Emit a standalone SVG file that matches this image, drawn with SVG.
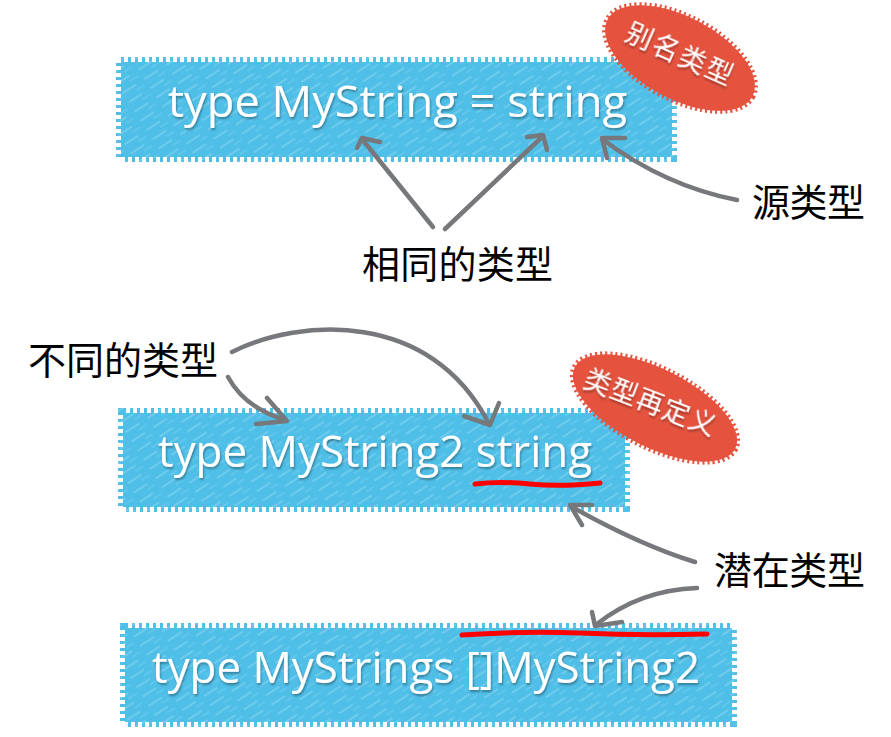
<svg xmlns="http://www.w3.org/2000/svg" width="891" height="737" viewBox="0 0 891 737">
<style>
.box{fill:#4FBFE8;stroke:#4FBFE8;stroke-width:10;stroke-dasharray:3 4}
.hatch{fill:url(#hatch)}
.code{font-family:"Open Sans","Liberation Sans",sans-serif;font-size:44px;fill:#fff;filter:url(#sh)}
.blob{fill:#E5533F;stroke:#E5533F;stroke-width:6;stroke-dasharray:2 3}
.tag{font-family:"Noto Sans CJK SC",sans-serif;font-size:27px;fill:#fff;filter:url(#sh)}
.lbl{font-family:"Noto Sans CJK SC",sans-serif;font-size:38px;fill:#000}
.arr{fill:none;stroke:#76787C;stroke-width:4.5;stroke-linecap:round;stroke-linejoin:round}
.ul{fill:none;stroke:#F00;stroke-width:5;stroke-linecap:round}
</style>
<defs>
<pattern id="hatch" patternUnits="userSpaceOnUse" width="26" height="11" patternTransform="rotate(-33)">
<line x1="0" y1="2" x2="16" y2="2" stroke="#fff" stroke-opacity="0.3" stroke-width="1.2"/>
<line x1="13" y1="7" x2="22" y2="7" stroke="#fff" stroke-opacity="0.2" stroke-width="1"/>
</pattern>
<filter id="sh" x="-10%" y="-20%" width="120%" height="150%">
<feDropShadow dx="1" dy="2" stdDeviation="1" flood-color="#000" flood-opacity="0.35"/>
</filter>
</defs>

<g id="box1">
<rect class="box" x="121" y="62" width="551" height="95"/>
<rect class="hatch" x="116" y="57" width="561" height="105"/>
<text class="code" x="168" y="117" textLength="459" lengthAdjust="spacingAndGlyphs">type MyString = string</text>
</g>
<g id="tag1">
<ellipse class="blob" cx="680" cy="58" rx="82" ry="41" transform="rotate(28 680 58)"/>
<text class="tag" x="680" y="64" text-anchor="middle" letter-spacing="2" transform="rotate(24 680 55)">别名类型</text>
</g>

<g id="box2">
<rect class="box" x="123" y="413" width="502" height="94"/>
<rect class="hatch" x="118" y="408" width="512" height="104"/>
<text class="code" x="158" y="467" textLength="434" lengthAdjust="spacingAndGlyphs">type MyString2 string</text>
<path class="ul" d="M475,484 Q500,481 530,484 Q560,487 600,483"/>
</g>
<g id="tag2">
<ellipse class="blob" cx="655" cy="408" rx="90" ry="39" transform="rotate(27 655 408)"/>
<text class="tag" x="650" y="412" text-anchor="middle" letter-spacing="1" transform="rotate(21 650 404)">类型再定义</text>
</g>

<g id="box3">
<rect class="box" x="125" y="628" width="607" height="94"/>
<rect class="hatch" x="120" y="623" width="617" height="104"/>
<path class="ul" d="M462,635 Q520,631 580,633 Q640,636 707,634"/>
<text class="code" x="152" y="683" textLength="548" lengthAdjust="spacingAndGlyphs">type MyStrings []MyString2</text>
</g>

<g id="lbl-src"><text class="lbl" x="752" y="216" textLength="113">源类型</text></g>
<g id="lbl-same"><text class="lbl" x="362" y="278" textLength="191">相同的类型</text></g>
<g id="lbl-diff"><text class="lbl" x="28" y="374" textLength="190">不同的类型</text></g>
<g id="lbl-under"><text class="lbl" x="714" y="584" textLength="151">潜在类型</text></g>

<g id="connectors">
<path class="arr" d="M433,227 L362,139"/>
<path class="arr" d="M380,142 L362,138 L357,148"/>
<path class="arr" d="M445,229 L543,136"/>
<path class="arr" d="M527,137 L543,135 L547,150"/>
<path class="arr" d="M737,200 Q665,186 602,139"/>
<path class="arr" d="M625,138 L602,138 L607,158"/>
<path class="arr" d="M228,377 Q245,408 285,420"/>
<path class="arr" d="M267,398 L287,421 L256,424"/>
<path class="arr" d="M232,352 C300,318 430,310 488,422"/>
<path class="arr" d="M499,403 L490,425 L464,416"/>
<path class="arr" d="M695,562 Q640,545 572,507"/>
<path class="arr" d="M592,505 L570,505 L582,525"/>
<path class="arr" d="M697,588 Q640,590 597,624"/>
<path class="arr" d="M592,612 L595,626 L622,622"/>
</g>
</svg>
